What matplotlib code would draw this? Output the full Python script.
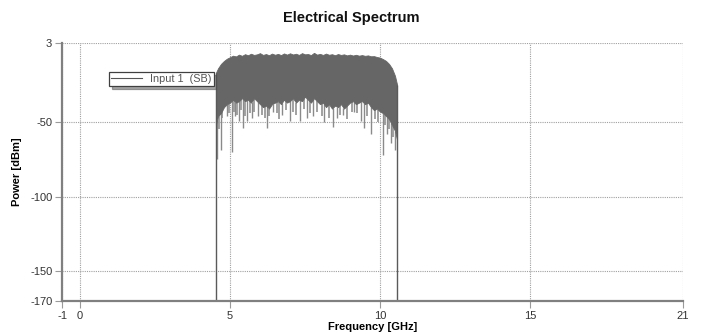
import matplotlib
matplotlib.use("Agg")
import matplotlib.pyplot as plt
import numpy as np
from matplotlib.lines import Line2D

plt.rcParams['font.family'] = ['Liberation Sans', 'DejaVu Sans']

# ---- data ----
env_freq = [4.53, 4.6, 4.7, 4.8, 4.9, 5.0, 5.1, 5.2, 5.3, 5.4, 5.5, 5.6, 5.7, 5.8, 5.9,
            6.0, 6.1, 6.2, 6.3, 6.4, 6.5, 6.6, 6.7, 6.8, 6.9, 7.0, 7.1, 7.2, 7.3, 7.4,
            7.5, 7.6, 7.7, 7.8, 7.9, 8.0, 8.1, 8.2, 8.3, 8.4, 8.5, 8.6, 8.7, 8.8, 8.9,
            9.0, 9.1, 9.2, 9.3, 9.4, 9.5, 9.6, 9.7, 9.8, 9.9, 10.0, 10.1, 10.2, 10.3,
            10.4, 10.5, 10.57]
upper_db = [-17, -14, -11, -9, -7.5, -6.5, -5.5, -6, -4.8, -5.6, -4.5, -5.2, -4.2, -5, -4.6,
            -3.8, -5, -4.4, -5.2, -4.1, -4.9, -4.3, -5.1, -4, -4.8, -3.9, -4.7, -4.2, -5, -3.8,
            -4.6, -4.4, -5.1, -3.6, -4.8, -4.3, -5, -4.1, -4.9, -4.5, -5.2, -4.4, -5, -4.6, -5.3,
            -4.8, -5.4, -4.9, -5.5, -5.1, -5.6, -5.3, -5.9, -5.8, -6.4, -6.8, -7.8, -9, -11,
            -14, -19, -25]
lower_db = [-52, -46, -44, -40, -38, -37, -35, -37, -36, -34, -36, -35, -37, -34, -36,
            -38, -40, -39, -41, -38, -37, -36, -38, -35, -37, -36, -34, -37, -35, -36,
            -33, -35, -37, -34, -36, -38, -37, -40, -38, -41, -39, -40, -38, -41, -39,
            -37, -36, -38, -37, -36, -38, -37, -40, -42, -41, -43, -44, -46, -48,
            -52, -56, -62]

# long downward spikes
spike_freq = [4.57, 4.70, 4.89, 5.08, 5.17, 5.31, 5.44, 5.56, 5.72, 5.94, 6.22, 6.44,
              6.72, 7.00, 7.33, 7.56, 7.78, 8.14, 8.42, 8.56, 8.78, 9.13, 9.36, 9.47,
              9.70, 10.09, 10.24, 10.36, 10.50]
spike_db = [-75, -69, -46, -70, -46, -49, -54, -49, -47, -46, -54, -43,
            -45, -49, -49, -47, -46, -50, -53, -47, -45, -43, -49, -54,
            -58, -72, -58, -64, -69]
# short fuzzy spikes along the lower edge
fuzz_freq = [4.62, 4.75, 4.98, 5.12, 5.25, 5.38, 5.50, 5.65, 5.80, 6.05, 6.15, 6.30,
             6.55, 6.62, 6.85, 7.10, 7.20, 7.45, 7.65, 7.90, 8.05, 8.30, 8.65, 8.90,
             9.05, 9.25, 9.55, 9.85, 9.95, 10.15, 10.30, 10.42]
fuzz_db = [-55, -47, -44, -43, -45, -42, -46, -44, -43, -45, -47, -46,
           -44, -48, -42, -43, -45, -41, -44, -43, -46, -47, -45, -48,
           -43, -44, -46, -48, -50, -52, -55, -60]

edge_freq = [4.53, 10.57]
floor_db = -170

series_name = "Input 1  (SB)"
x_ticks = [-0.6, 0, 5, 10, 15, 20.1]
x_tick_labels = ['-1', '0', '5', '10', '15', '21']
y_ticks = [-170, -150, -100, -50, 3]
y_tick_labels = ['-170', '-150', '-100', '-50', '3']

# ---- figure ----
fig = plt.figure(figsize=(7.02, 3.34), dpi=100)
W, H = 702, 334
ax = fig.add_axes([62 / W, 1 - 301 / H, (683 - 62) / W, (301 - 43) / H])

body = '#666666'
ax.fill_between(env_freq, lower_db, upper_db, color=body, lw=0.6, edgecolor=body, zorder=3)
ax.vlines(spike_freq, np.interp(spike_freq, env_freq, lower_db), spike_db,
          colors='#8a8a8a', lw=1.0, zorder=2.5)
ax.vlines(fuzz_freq, np.interp(fuzz_freq, env_freq, lower_db), fuzz_db,
          colors='#9a9a9a', lw=1.3, zorder=2.4)
ax.vlines(edge_freq, floor_db, [upper_db[0], upper_db[-1]], colors='#5a5a5a', lw=1.0, zorder=3)

ax.set_xlim(-0.6, 20.1)
ax.set_ylim(-170, 3)

ax.set_xticks(x_ticks)
ax.set_xticklabels(x_tick_labels)
ax.set_yticks(y_ticks)
ax.set_yticklabels(y_tick_labels)
ax.tick_params(axis='both', labelsize=8, labelcolor='#333333', color='#9a9a9a',
               length=5, width=0.8, direction='out', pad=2)

ax.grid(True, linestyle=(0, (1, 1)), color='#a0a0a0', lw=0.8)
ax.set_axisbelow(True)

for s in ['top', 'right']:
    ax.spines[s].set_visible(False)
for s in ['left', 'bottom']:
    ax.spines[s].set_color('#808080')
    ax.spines[s].set_linewidth(1.6)
    ax.spines[s].set_zorder(5)

fig.text(0.5, 1 - 18 / H, 'Electrical Spectrum', ha='center', va='center',
         fontsize=10.5, fontweight='bold', color='#111111')
ax.set_xlabel('Frequency [GHz]', fontsize=8, fontweight='bold', labelpad=1)
ax.set_ylabel('Power [dBm]', fontsize=8, fontweight='bold', labelpad=6)

handle = Line2D([0], [0], color='#555555', lw=0.8)
leg = ax.legend([handle], [series_name], loc='upper left',
                bbox_to_anchor=(109 / W, 1 - 72 / H), bbox_transform=fig.transFigure,
                fontsize=7.8, frameon=True, fancybox=False, shadow=True,
                borderpad=0.2, handlelength=2.8, handletextpad=0.8, borderaxespad=0)
leg.get_frame().set_edgecolor('#404040')
leg.get_frame().set_linewidth(0.9)
for t in leg.get_texts():
    t.set_color('#555555')

fig.savefig('out.png', dpi=100)
